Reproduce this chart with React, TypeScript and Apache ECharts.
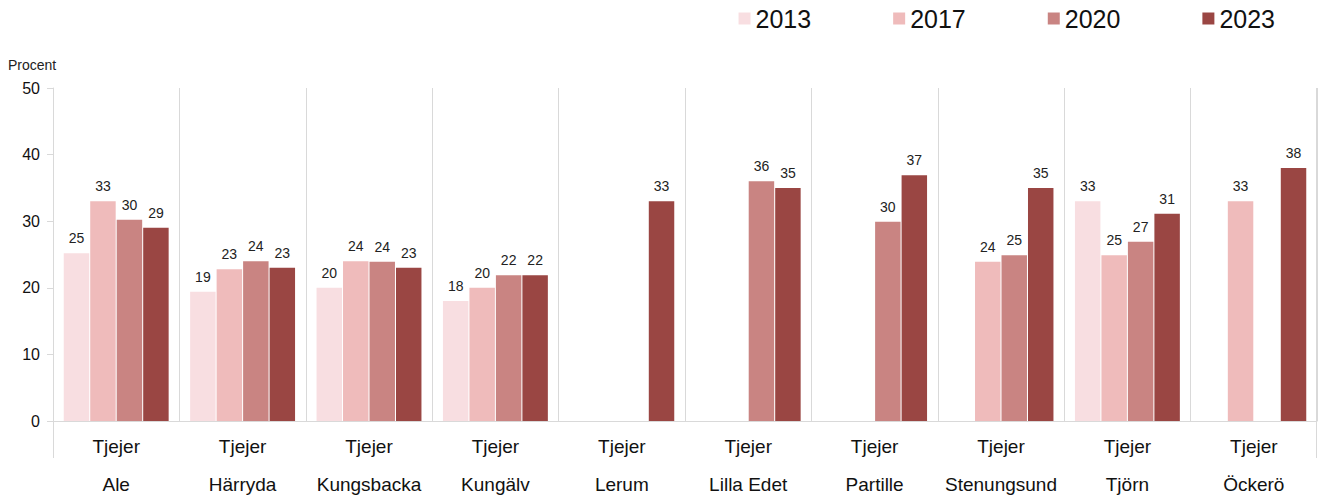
import React, { useEffect, useRef } from "react";
import * as echarts from "echarts";

const municipalities = ["Ale", "Härryda", "Kungsbacka", "Kungälv", "Lerum", "Lilla Edet", "Partille", "Stenungsund", "Tjörn", "Öckerö"];
const groupLabel = "Tjejer";
const years = ["2013", "2017", "2020", "2023"];
const v2013 = [25.2, 19.4, 20.0, 18.0, null, null, null, null, 33.0, null];
const v2017 = [33.0, 22.8, 24.0, 20.0, null, null, null, 23.9, 24.9, 33.0];
const v2020 = [30.2, 24.0, 23.9, 21.9, null, 36.0, 29.9, 24.9, 26.9, null];
const v2023 = [29.0, 23.0, 23.0, 21.9, 33.0, 35.0, 36.9, 35.0, 31.1, 38.0];
const yTicks = { min: 0, max: 50, interval: 10 };
const colors = ["#F8DEE1", "#EFBBBB", "#C98482", "#9A4643"];

const FONT = "'Liberation Sans', Arial, sans-serif";
const GRID = "#d9d9d9";

export default function App() {
  const ref = useRef<HTMLDivElement>(null);
  useEffect(() => {
    if (!ref.current) return;
    const chart = echarts.init(ref.current, null, { renderer: "svg" });
    const seriesData = [v2013, v2017, v2020, v2023];
    chart.setOption({
      animation: false,
      textStyle: { fontFamily: FONT },
      title: {
        text: "Procent",
        left: 3,
        top: 53,
        textStyle: { fontSize: 14, fontWeight: "normal", color: "#222", fontFamily: FONT },
      },
      legend: {
        data: years,
        right: 41,
        top: 1,
        icon: "rect",
        itemWidth: 12,
        itemHeight: 12,
        itemGap: 82,
        textStyle: { fontSize: 25, color: "#111", fontFamily: FONT },
      },
      grid: { left: 53, right: 4, top: 88, bottom: 77, containLabel: false },
      xAxis: [
        {
          type: "category",
          data: municipalities,
          axisLine: { show: true, lineStyle: { color: GRID } },
          axisTick: { show: false },
          splitLine: { show: true, interval: 0, lineStyle: { color: GRID } },
          axisLabel: { formatter: () => groupLabel, fontSize: 19, color: "#111", margin: 16, interval: 0 },
        },
        {
          type: "category",
          data: municipalities,
          position: "bottom",
          offset: 38,
          axisLine: { show: false },
          axisTick: { show: false },
          splitLine: { show: false },
          axisLabel: { fontSize: 19, color: "#111", margin: 16, interval: 0 },
        },
      ],
      yAxis: {
        type: "value",
        ...yTicks,
        axisLine: { show: true, lineStyle: { color: GRID } },
        axisTick: { show: true, length: 6, lineStyle: { color: GRID } },
        splitLine: { show: false },
        axisLabel: { fontSize: 16, color: "#111", margin: 13 },
      },
      graphic: [
        { type: "line", shape: { x1: 53.5, y1: 421, x2: 53.5, y2: 458 }, style: { stroke: GRID, lineWidth: 1 } },
        { type: "line", shape: { x1: 1316.5, y1: 88, x2: 1316.5, y2: 458 }, style: { stroke: GRID, lineWidth: 1 } },
      ],
      series: years.map((y, i) => ({
        name: y,
        type: "bar",
        xAxisIndex: 0,
        data: seriesData[i],
        barCategoryGap: "17%",
        barGap: "4%",
        itemStyle: { color: colors[i] },
        label: {
          show: true,
          position: "top",
          distance: 8,
          fontSize: 14,
          color: "#222",
          formatter: (p: any) => (p.value == null ? "" : String(Math.round(p.value))),
        },
      })),
    });
    return () => chart.dispose();
  }, []);
  return <div ref={ref} style={{ width: 1321, height: 498, position: "absolute", left: 0, top: 0 }} />;
}
